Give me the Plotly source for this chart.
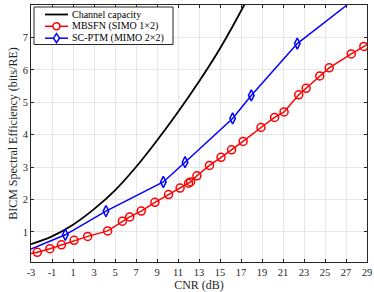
import plotly.graph_objects as go

# ---- data ----
cap_x = [-3, -1, 1, 3, 5, 7, 9, 11, 13, 15, 17.3, 19]
cap_y = [0.62, 0.86, 1.22, 1.70, 2.28, 3.00, 3.82, 4.70, 5.64, 6.66, 8.0, 9.1]

mbsfn_x = [-3, -2.4, -1.2, -0.1, 1.1, 2.4, 4.3, 5.7, 6.4, 7.5, 8.8, 10.1, 11.2, 12.0, 12.2,
           12.8, 14.0, 15.1, 16.1, 17.2, 18.9, 20.2, 21.1, 22.5, 23.2, 24.5, 25.4, 27.5, 28.7, 29]
mbsfn_y = [0.33, 0.37, 0.48, 0.60, 0.74, 0.86, 1.03, 1.33, 1.46, 1.64, 1.91, 2.15, 2.35, 2.50, 2.54,
           2.73, 3.05, 3.30, 3.53, 3.79, 4.22, 4.53, 4.70, 5.23, 5.43, 5.81, 6.06, 6.49, 6.72, 6.78]
mbsfn_marked = [False] + [True] * 28 + [False]

scptm_x = [-3, 0.27, 4.14, 9.6, 11.67, 16.2, 17.98, 22.36, 27.1]
scptm_y = [0.47, 0.91, 1.64, 2.54, 3.15, 4.50, 5.21, 6.81, 8.0]
scptm_marked = [False, True, True, True, True, True, True, True, False]

x_ticks = list(range(-3, 30, 2))
y_ticks = [1, 2, 3, 4, 5, 6, 7, 8]

names = ["Channel capacity", "MBSFN (SIMO 1\u00d72)", "SC-PTM (MIMO 2\u00d72)"]

FONT = "Liberation Serif"
RED = "#ff0000"
BLUE = "#0000ff"
INK = "#262626"

W, H = 374, 292
ML, MR, MT, MB = 31, 7, 5, 30
PW, PH = W - ML - MR, H - MT - MB


def px(xp):
    return (xp - ML) / PW


def py(yp):
    return (H - MB - yp) / PH


fig = go.Figure()

# lines
fig.add_trace(go.Scatter(x=cap_x, y=cap_y, mode="lines", name=names[0],
                         line=dict(color="black", width=1.8, shape="spline", smoothing=1.0),
                         showlegend=False))
fig.add_trace(go.Scatter(x=mbsfn_x, y=mbsfn_y, mode="lines", name=names[1],
                         line=dict(color=RED, width=1.5), showlegend=False))
fig.add_trace(go.Scatter(x=scptm_x, y=scptm_y, mode="lines", name=names[2],
                         line=dict(color=BLUE, width=1.5), showlegend=False))

# markers
fig.add_trace(go.Scatter(
    x=[x for x, m in zip(mbsfn_x, mbsfn_marked) if m],
    y=[y for y, m in zip(mbsfn_y, mbsfn_marked) if m],
    mode="markers", name=names[1],
    marker=dict(symbol="circle-open", size=8, color=RED, line=dict(width=1.5)),
    showlegend=False))
fig.add_trace(go.Scatter(
    x=[x for x, m in zip(scptm_x, scptm_marked) if m],
    y=[y for y, m in zip(scptm_y, scptm_marked) if m],
    mode="markers", name=names[2],
    marker=dict(symbol="diamond-tall-open", size=8, color=BLUE, line=dict(width=1.5)),
    showlegend=False))

# ---- compact MATLAB-style legend box ----
shapes = []
annotations = []
shapes.append(dict(type="rect", xref="paper", yref="paper",
                   x0=px(34), x1=px(173), y0=py(44.5), y1=py(7),
                   line=dict(color=INK, width=1), fillcolor="white", layer="above"))
rows_y = [14.5, 26.3, 38.2]
colors = ["black", RED, BLUE]
widths = [1.8, 1.5, 1.5]
for i, (yy, c, lw, name) in enumerate(zip(rows_y, colors, widths, names)):
    shapes.append(dict(type="line", xref="paper", yref="paper",
                       x0=px(45), x1=px(68), y0=py(yy), y1=py(yy),
                       line=dict(color=c, width=lw), layer="above"))
    annotations.append(dict(xref="paper", yref="paper", x=px(70), y=py(yy),
                            xanchor="left", yanchor="middle", showarrow=False,
                            text=name, font=dict(family=FONT, size=10, color="black")))
# legend marker glyphs (pixel-sized)
shapes.append(dict(type="circle", xref="paper", yref="paper",
                   xsizemode="pixel", ysizemode="pixel",
                   xanchor=px(56.5), yanchor=py(rows_y[1]),
                   x0=-3.5, x1=3.5, y0=-3.5, y1=3.5,
                   line=dict(color=RED, width=1.5), fillcolor="white", layer="above"))
shapes.append(dict(type="path", xref="paper", yref="paper",
                   xsizemode="pixel", ysizemode="pixel",
                   xanchor=px(56.5), yanchor=py(rows_y[2]),
                   path="M 0 4.5 L 3 0 L 0 -4.5 L -3 0 Z",
                   line=dict(color=BLUE, width=1.5), fillcolor="white", layer="above"))

axis_common = dict(showline=True, linecolor=INK, linewidth=1, mirror="ticks",
                   ticks="inside", ticklen=3, tickcolor=INK, automargin=False,
                   showgrid=True, gridcolor="#e6e6e6", gridwidth=1, zeroline=False,
                   tickfont=dict(family=FONT, size=10.5, color=INK))

fig.update_xaxes(range=[-3, 29], tickvals=x_ticks, ticktext=[str(t) for t in x_ticks],
                 title=dict(text="CNR (dB)", font=dict(family=FONT, size=12, color=INK),
                            standoff=0),
                 **axis_common)
fig.update_yaxes(range=[0.07, 8], tickvals=y_ticks, ticktext=[str(t) for t in y_ticks],
                 title=dict(text="BICM Spectral Efficiency (bits/RE)",
                            font=dict(family=FONT, size=12, color=INK), standoff=2),
                 **axis_common)

fig.update_layout(
    width=W, height=H,
    margin=dict(l=ML, r=MR, t=MT, b=MB, autoexpand=False),
    paper_bgcolor="white", plot_bgcolor="white",
    font=dict(family=FONT, size=11, color=INK),
    showlegend=False,
    shapes=shapes,
    annotations=annotations,
)

fig.write_html("out.html",
               config={"displayModeBar": False, "staticPlot": True},
               post_script="document.body.style.margin='0';document.body.style.overflow='hidden';")
